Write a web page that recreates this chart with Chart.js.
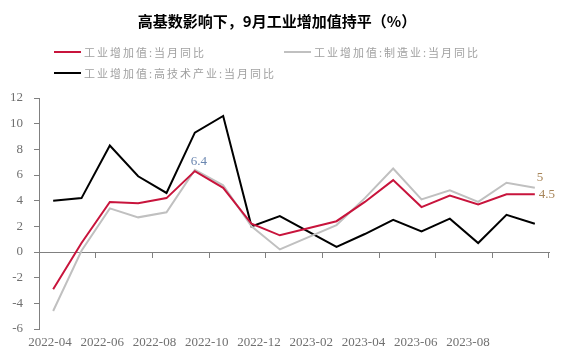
<!DOCTYPE html>
<html>
<head>
<meta charset="utf-8">
<script src="https://cdn.jsdelivr.net/npm/chart.js@4"></script>
<style>
  body { margin: 0; background: #fff; }
  #wrap { position: relative; width: 565px; height: 359px; }
  #title { position: absolute; left: 0; top: 10px; width: 554px; text-align: center;
           font: bold 15px "Noto Sans CJK SC"; color: #000; }
  #legend { position: absolute; left: 54px; top: 41px; width: 470px; display: flex; flex-wrap: wrap; }
  .item { width: 230px; height: 21px; display: flex; align-items: center; white-space: nowrap;
          font: 11px "Noto Sans CJK SC"; color: #a0a0a0; letter-spacing: 2px; }
  .item i { display: inline-block; width: 27px; height: 2px; margin-right: 3px; }
</style>
</head>
<body>
<div id="wrap">
  <canvas id="chart" width="565" height="359"></canvas>
  <div id="title">高基数影响下，9月工业增加值持平（%）</div>
  <div id="legend"></div>
</div>
<script>
// months on the x axis (Jan 2023 has no separate value)
const months = ['2022-04', '2022-05', '2022-06', '2022-07', '2022-08', '2022-09', '2022-10', '2022-11', '2022-12',
                '2023-01', '2023-02', '2023-03', '2023-04', '2023-05', '2023-06', '2023-07', '2023-08', '2023-09'];
// labels printed under the chart
const xLabels = ['2022-04', '2022-06', '2022-08', '2022-10', '2022-12', '2023-02', '2023-04', '2023-06', '2023-08'];

const industry      = [-2.9, 0.7, 3.9, 3.8, 4.2, 6.3, 5.0, 2.2, 1.3, null, 2.4, 3.9, 5.6, 3.5, 4.4, 3.7, 4.5, 4.5];
const manufacturing = [-4.6, 0.1, 3.4, 2.7, 3.1, 6.4, 5.2, 2.0, 0.2, null, 2.1, 4.2, 6.5, 4.1, 4.8, 3.9, 5.4, 5.0];
const hightech      = [4.0, 4.2, 8.3, 5.9, 4.6, 9.3, 10.6, 2.0, 2.8, null, 0.4, 1.4, 2.5, 1.6, 2.6, 0.7, 2.9, 2.2];

const seriesNames  = ['工业增加值:当月同比', '工业增加值:制造业:当月同比', '工业增加值:高技术产业:当月同比'];
const seriesColors = ['#c8143c', '#c0c0c0', '#000000'];

// which points get a value label: [series, index]
const labelledPoints = [[1, 5], [1, 17], [0, 17]];
const labelStyles = [
  { dx: 4, dy: -2, align: 'center', base: 'bottom', color: '#6a86b0' },
  { dx: 2, dy: -4, align: 'left', base: 'bottom', color: '#a8865a' },
  { dx: 4, dy: 0, align: 'left', base: 'middle', color: '#a8865a' }
];

const axisGray = '#808080';
const serif = { family: 'Liberation Serif', size: 13 };

// html legend
const legendBox = document.getElementById('legend');
seriesNames.forEach((name, i) => {
  const item = document.createElement('div');
  item.className = 'item';
  item.innerHTML = `<i style="background:${seriesColors[i]}"></i>${name}`;
  legendBox.appendChild(item);
});

const valueLabels = {
  id: 'valueLabels',
  afterDatasetsDraw(chart) {
    const ctx = chart.ctx;
    ctx.save();
    ctx.font = '13px "Liberation Serif"';
    labelledPoints.forEach(([s, i], k) => {
      const el = chart.getDatasetMeta(s).data[i];
      const st = labelStyles[k];
      ctx.fillStyle = st.color;
      ctx.textAlign = st.align;
      ctx.textBaseline = st.base;
      ctx.fillText(String(chart.data.datasets[s].data[i]), el.x + st.dx, el.y + st.dy);
    });
    ctx.restore();
  }
};

new Chart(document.getElementById('chart'), {
  type: 'line',
  data: {
    labels: months,
    datasets: [industry, manufacturing, hightech].map((d, i) => ({
      label: seriesNames[i],
      data: d,
      borderColor: seriesColors[i],
      backgroundColor: seriesColors[i],
      borderWidth: 2,
      pointRadius: 0,
      tension: 0,
      spanGaps: true
    }))
  },
  options: {
    responsive: false,
    animation: false,
    layout: { padding: { top: 98, right: 16, bottom: 8, left: 0 } },
    plugins: { legend: { display: false }, title: { display: false }, tooltip: { enabled: false } },
    scales: {
      x: {
        type: 'category',
        position: { y: 0 },
        offset: true,
        ticks: { display: false },
        border: { color: axisGray },
        grid: {
          offset: true,
          drawOnChartArea: false,
          tickLength: 5,
          tickColor: c => (c.index === undefined || c.index % 2 === 0) ? axisGray : 'rgba(0,0,0,0)'
        }
      },
      xl: {
        type: 'linear',
        position: 'bottom',
        min: -0.2105,
        max: 9.55,
        grid: { display: false, drawTicks: false },
        border: { display: false },
        afterBuildTicks: axis => { axis.ticks = xLabels.map((l, i) => ({ value: i })); },
        afterFit: s => { s.height = 22; },
        ticks: {
          autoSkip: false,
          maxRotation: 0,
          padding: 6,
          color: '#707070',
          font: serif,
          callback: v => xLabels[v]
        }
      },
      y: {
        min: -6,
        max: 12,
        ticks: { stepSize: 2, padding: 11, color: '#707070', font: serif },
        border: { color: axisGray },
        grid: { drawOnChartArea: false, tickLength: 5, tickColor: axisGray },
        afterFit: s => { s.width = 39; }
      }
    }
  },
  plugins: [valueLabels]
});
</script>
</body>
</html>
